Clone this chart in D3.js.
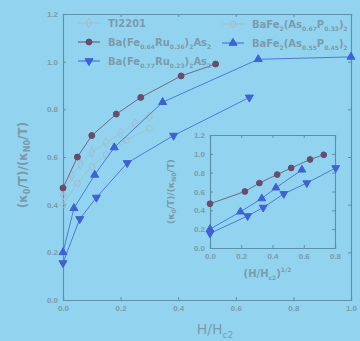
<!DOCTYPE html>
<html>
<head>
<meta charset="utf-8">
<script src="https://cdn.jsdelivr.net/npm/d3@7"></script>
<style>
  body { margin: 0; background: #92d4f0; }
  svg { display: block; font-family: "DejaVu Sans", sans-serif; }
</style>
</head>
<body>
<div id="chart"></div>
<script>
// H/Hc2 and normalised kappa0/T
const ru36H = [0.0, 0.05, 0.10, 0.185, 0.27, 0.41, 0.53];
const ru36K = [0.47, 0.60, 0.69, 0.78, 0.85, 0.94, 0.99];
const ru23H = [0.0, 0.058, 0.116, 0.223, 0.384, 0.647];
const ru23K = [0.155, 0.34, 0.43, 0.575, 0.69, 0.85];
const p45H = [0.0, 0.038, 0.11, 0.178, 0.346, 0.678, 1.0];
const p45K = [0.20, 0.385, 0.525, 0.64, 0.83, 1.01, 1.02];
const tlH = [0.0, 0.03, 0.06, 0.10, 0.15, 0.20, 0.25, 0.30];
const tlK = [0.44, 0.52, 0.57, 0.62, 0.66, 0.70, 0.74, 0.77];
const p33H = [0.0, 0.05, 0.10, 0.15, 0.22, 0.30];
const p33K = [0.40, 0.49, 0.56, 0.61, 0.67, 0.72];

const xTicks = [0.0, 0.2, 0.4, 0.6, 0.8, 1.0];
const yTicks = [0.0, 0.2, 0.4, 0.6, 0.8, 1.0, 1.2];
const insetXTicks = [0.0, 0.2, 0.4, 0.6, 0.8];

const W = 360, H = 341;
const axisCol = "#5f8fab", textCol = "#7d9aab";
const redCol = "#6b4b6b", blueCol = "#3d62d6", greyCol = "#a5bccb";

const svg = d3.select("#chart").append("svg").attr("width", W).attr("height", H);
svg.append("rect").attr("width", W).attr("height", H).attr("fill", "#92d4f0");

function zip(xs, ys) { return xs.map((x, i) => ({ x: x, y: ys[i] })); }

const series = [
  { name: "Tl2201", data: zip(tlH, tlK), col: greyCol, sym: "diamond", open: true, inset: false },
  { name: "ru36", data: zip(ru36H, ru36K), col: redCol, sym: "circle", open: false, inset: true },
  { name: "ru23", data: zip(ru23H, ru23K), col: blueCol, sym: "down", open: false, inset: true },
  { name: "p33", data: zip(p33H, p33K), col: greyCol, sym: "circle", open: true, inset: false },
  { name: "p45", data: zip(p45H, p45K), col: blueCol, sym: "up", open: false, inset: true }
];

function symbolPath(sym, size) {
  if (sym === "diamond") return d3.symbol(d3.symbolDiamond, size)();
  if (sym === "circle") return d3.symbol(d3.symbolCircle, size)();
  return d3.symbol(d3.symbolTriangle, size)();
}

function drawMarks(g, s, x, y, xf, size) {
  const line = d3.line().x(d => x(xf(d.x))).y(d => y(d.y));
  g.append("path").datum(s.data)
    .attr("d", line).attr("fill", "none")
    .attr("stroke", s.col).attr("stroke-width", 1).attr("opacity", 0.8);
  g.selectAll(null).data(s.data).enter().append("path")
    .attr("d", symbolPath(s.sym, size))
    .attr("transform", d => `translate(${x(xf(d.x))},${y(d.y)})` + (s.sym === "down" ? " rotate(180)" : ""))
    .attr("fill", s.open ? "none" : s.col)
    .attr("stroke", s.col).attr("stroke-width", 1);
}

function frame(g, x, y, w, h, xt, yt, fs) {
  const ax = [
    g.append("g").attr("transform", `translate(0,${h})`).call(d3.axisBottom(x).tickValues(xt).tickSize(-3).tickPadding(5).tickFormat(d3.format(".1f"))),
    g.append("g").call(d3.axisLeft(y).tickValues(yt).tickSize(-3).tickPadding(5).tickFormat(d3.format(".1f"))),
    g.append("g").call(d3.axisTop(x).tickValues(xt).tickSize(-3).tickFormat("")),
    g.append("g").attr("transform", `translate(${w},0)`).call(d3.axisRight(y).tickValues(yt).tickSize(-3).tickFormat(""))
  ];
  ax.forEach(a => {
    a.select(".domain").attr("stroke", axisCol).attr("stroke-width", 1.2);
    a.selectAll(".tick line").attr("stroke", axisCol);
    a.selectAll(".tick text").attr("fill", textCol).attr("font-size", fs).attr("font-weight", "bold");
  });
}

// main plot
const m = { left: 63, top: 14, right: 9, bottom: 41 };
const pw = W - m.left - m.right, ph = H - m.top - m.bottom;
const x = d3.scaleLinear().domain([0, 1]).range([0, pw]);
const y = d3.scaleLinear().domain([0, 1.2]).range([ph, 0]);
const g = svg.append("g").attr("transform", `translate(${m.left},${m.top})`);
frame(g, x, y, pw, ph, xTicks, yTicks, 8);

series.forEach(s => drawMarks(g, s, x, y, v => v, 28));

g.append("text").attr("x", pw / 2 + 8).attr("y", ph + 34)
  .attr("text-anchor", "middle").attr("fill", textCol).attr("font-size", 14)
  .html('H/H<tspan font-size="9" dy="4">c2</tspan>');

svg.append("text").attr("transform", "translate(27,165) rotate(-90)")
  .attr("text-anchor", "middle").attr("fill", textCol).attr("font-size", 12).attr("font-weight", "bold")
  .html('(κ<tspan font-size="8" dy="3">0</tspan><tspan dy="-3">/T)/(κ</tspan><tspan font-size="8" dy="3">N0</tspan><tspan dy="-3">/T)</tspan>');

// legend
const legend = [
  { s: series[0], label: 'Tl2201', lx: 78, ly: 23 },
  { s: series[1], label: 'Ba(Fe<tspan font-size="6" dy="3">0.64</tspan><tspan dy="-3">Ru</tspan><tspan font-size="6" dy="3">0.36</tspan><tspan dy="-3">)</tspan><tspan font-size="6" dy="3">2</tspan><tspan dy="-3">As</tspan><tspan font-size="6" dy="3">2</tspan>', lx: 78, ly: 42 },
  { s: series[2], label: 'Ba(Fe<tspan font-size="6" dy="3">0.77</tspan><tspan dy="-3">Ru</tspan><tspan font-size="6" dy="3">0.23</tspan><tspan dy="-3">)</tspan><tspan font-size="6" dy="3">2</tspan><tspan dy="-3">As</tspan><tspan font-size="6" dy="3">2</tspan>', lx: 78, ly: 61 },
  { s: series[3], label: 'BaFe<tspan font-size="6" dy="3">2</tspan><tspan dy="-3">(As</tspan><tspan font-size="6" dy="3">0.67</tspan><tspan dy="-3">P</tspan><tspan font-size="6" dy="3">0.33</tspan><tspan dy="-3">)</tspan><tspan font-size="6" dy="3">2</tspan>', lx: 222, ly: 24 },
  { s: series[4], label: 'BaFe<tspan font-size="6" dy="3">2</tspan><tspan dy="-3">(As</tspan><tspan font-size="6" dy="3">0.55</tspan><tspan dy="-3">P</tspan><tspan font-size="6" dy="3">0.45</tspan><tspan dy="-3">)</tspan><tspan font-size="6" dy="3">2</tspan>', lx: 222, ly: 43 }
];
legend.forEach(l => {
  const lg = svg.append("g").attr("transform", `translate(${l.lx},${l.ly})`);
  lg.append("line").attr("x1", 0).attr("x2", 22).attr("stroke", l.s.col).attr("stroke-width", 1);
  lg.append("path").attr("d", symbolPath(l.s.sym, 28))
    .attr("transform", "translate(11,0)" + (l.s.sym === "down" ? " rotate(180)" : ""))
    .attr("fill", l.s.open ? "none" : l.s.col).attr("stroke", l.s.col);
  lg.append("text").attr("x", 30).attr("y", 4).attr("fill", textCol)
    .attr("font-size", 10).attr("font-weight", "bold").html(l.label);
});

// inset, x = (H/Hc2)^1/2
const ib = { left: 210, top: 135, w: 125, h: 113 };
const ix = d3.scaleLinear().domain([0, 0.8]).range([0, ib.w]);
const iy = d3.scaleLinear().domain([0, 1.2]).range([ib.h, 0]);
const ig = svg.append("g").attr("transform", `translate(${ib.left},${ib.top})`);
frame(ig, ix, iy, ib.w, ib.h, insetXTicks, yTicks, 8);
series.filter(s => s.inset).forEach(s => {
  const clipped = Object.assign({}, s, { data: s.data.filter(d => Math.sqrt(d.x) <= 0.81) });
  drawMarks(ig, clipped, ix, iy, v => Math.sqrt(v), 26);
});
ig.append("text").attr("x", ib.w / 2 - 5).attr("y", ib.h + 29)
  .attr("text-anchor", "middle").attr("fill", textCol).attr("font-size", 10).attr("font-weight", "bold")
  .html('(H/H<tspan font-size="6" dy="3">c2</tspan><tspan dy="-3">)</tspan><tspan font-size="6" dy="-5">1/2</tspan>');
svg.append("text").attr("transform", `translate(${ib.left - 36},${ib.top + ib.h / 2}) rotate(-90)`)
  .attr("text-anchor", "middle").attr("fill", textCol).attr("font-size", 9).attr("font-weight", "bold")
  .html('(κ<tspan font-size="6" dy="2">0</tspan><tspan dy="-2">/T)/(κ</tspan><tspan font-size="6" dy="2">N0</tspan><tspan dy="-2">/T)</tspan>');
</script>
</body>
</html>
